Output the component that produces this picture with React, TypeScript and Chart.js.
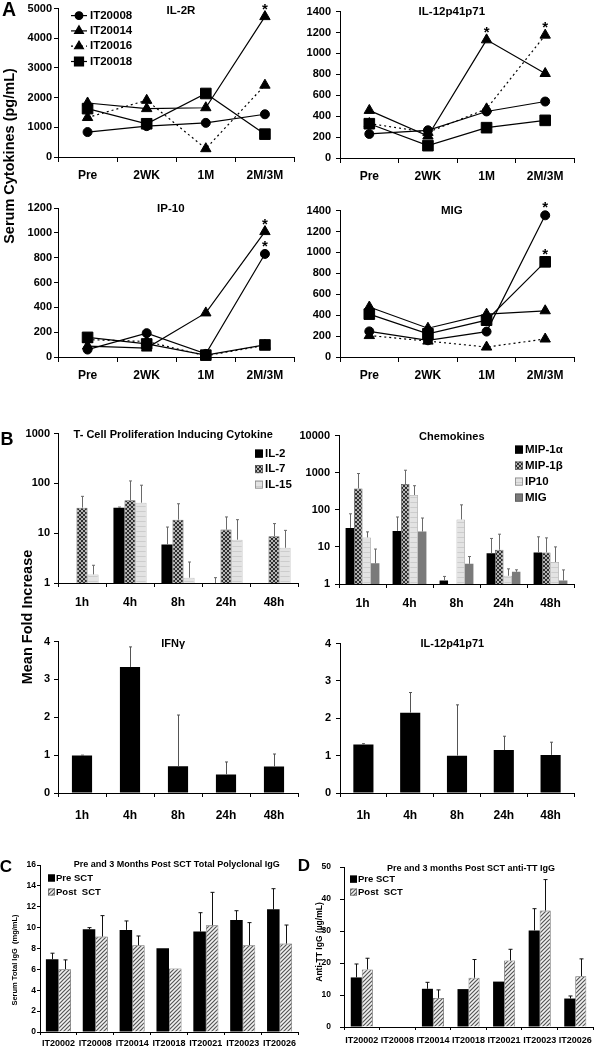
import React, { useEffect, useRef } from 'react';
import { Chart, registerables } from 'chart.js';
import { drawPoint } from 'chart.js/helpers';

Chart.register(...registerables);

const FONT = "'Liberation Sans', Arial, Helvetica, sans-serif";
Chart.defaults.font.family = FONT;

// ---------------- Panel A data ----------------
const timepoints = ['Pre', '2WK', '1M', '2M/3M'];
const patientsA = ['IT20008', 'IT20014', 'IT20016', 'IT20018'];

const il2r_IT20008 = [840, 1040, 1150, 1440];
const il2r_IT20014 = [1820, 1630, 1660, 4730];
const il2r_IT20016 = [1330, 1910, 280, 2420];
const il2r_IT20018 = [1630, 1120, 2140, 770];
const il2rStars: [number, number][] = [[1, 3]];

const il12_IT20008 = [230, 265, 445, 540];
const il12_IT20014 = [455, 210, 1130, 808];
const il12_IT20016 = [330, 245, 470, 1175];
const il12_IT20018 = [328, 118, 290, 360];
const il12Stars: [number, number][] = [[1, 2], [2, 3]];

const ip10_IT20008 = [60, 192, 25, 830];
const ip10_IT20014 = [88, 72, 355, 1010];
const ip10_IT20016 = [140, 125, 10, 94];
const ip10_IT20018 = [158, 105, 15, 97];
const ip10Stars: [number, number][] = [[1, 3], [0, 3]];

const mig_IT20008 = [245, 160, 243, 1355];
const mig_IT20014 = [478, 275, 410, 442];
const mig_IT20016 = [205, 152, 95, 172];
const mig_IT20018 = [410, 222, 352, 910];
const migStars: [number, number][] = [[0, 3], [3, 3]];

// ---------------- Panel B data ----------------
const hours = ['1h', '4h', '8h', '24h', '48h'];
const tcellLabels = ['IL-2', 'IL-7', 'IL-15'];
const il2Fold = [null, 32.6, 5.9, 1, null];
const il2Err = [null, 33.5, 13.3, 1.28, null];
const il7Fold = [32.6, 45.8, 18.7, 11.8, 8.7];
const il7Err = [55, 112, 39, 21.2, 15.6];
const il15Fold = [1.49, 41, 1.28, 7.4, 5.1];
const il15Err = [2.27, 92, 2.64, 18.7, 11.4];

const chemoLabels = ['MIP-1α', 'MIP-1β', 'IP10', 'MIG'];
const mip1aFold = [32.5, 27, 1.25, 6.7, 7.1];
const mip1aErr = [78, 64, 1.6, 16.9, 18.7];
const mip1bFold = [378, 494, null, 8.4, 7.1];
const mip1bErr = [950, 1166, null, 22, 17.5];
const ip10Fold = [18, 251, 55, 1.67, 3.9];
const ip10Err = [25.4, 446, 136, 2.56, 10];
const migFold = [3.6, 26, 3.5, 2.13, 1.25];
const migErr = [8.75, 60, 5.5, 2.41, 2.4];

const ifngFold = [0.99, 3.33, 0.71, 0.49, 0.7];
const ifngErr = [1.0, 3.86, 2.06, 0.82, 1.03];
const il12Fold = [1.3, 2.15, 1.0, 1.15, 1.02];
const il12Err = [1.32, 2.69, 2.36, 1.52, 1.36];

const log3Ticks = [1, 10, 100, 1000];
const log4Ticks = [1, 10, 100, 1000, 10000];

// ---------------- Panel C / D data ----------------
const patientsCD = ['IT20002', 'IT20008', 'IT20014', 'IT20018', 'IT20021', 'IT20023', 'IT20026'];
const groupLabels = ['Pre SCT', 'Post  SCT'];
const igPre = [6.97, 9.84, 9.78, 8.03, 9.62, 10.73, 11.75];
const igPreErr = [7.55, 10.0, 10.64, null, 11.43, 11.62, 13.73];
const igPost = [6.02, 9.14, 8.31, 6.08, 10.22, 8.31, 8.47];
const igPostErr = [6.91, 11.15, 9.2, null, 13.38, 10.48, 10.25];
const ttPre = [15.5, null, 11.95, 11.85, 14.2, 30.2, 8.9];
const ttPreErr = [19.7, null, 13.97, null, null, 37, 9.7];
const ttPost = [18.0, null, 9.1, 15.4, 20.8, 36.4, 15.9];
const ttPostErr = [21.5, null, 11.6, 21.1, 24.3, 46.1, 21.3];

// ---------------- helpers ----------------
type Area = { l: number; r: number; t: number; b: number };
type Box = { left: number; top: number; width: number; height: number };

function boxFor(a: Area, yW: number, xH: number, padTop: number, padRight: number): Box {
  return { left: a.l - yW, top: a.t - padTop, width: a.r - a.l + yW + padRight, height: a.b - a.t + padTop + xH };
}

function baseOptions(padTop: number, padRight: number) {
  return {
    responsive: false,
    animation: false,
    devicePixelRatio: 1,
    events: [],
    layout: { padding: { top: padTop, right: padRight, left: 0, bottom: 0 } },
    plugins: { legend: { display: false }, tooltip: { enabled: false }, title: { display: false } },
  };
}

function xAxis(o: { size: number; pad: number; tickLen: number; height: number }) {
  return {
    type: 'category',
    offset: true,
    grid: { display: true, drawOnChartArea: false, drawTicks: true, tickLength: o.tickLen, offset: true, color: '#000', lineWidth: 1 },
    border: { display: true, color: '#000', width: 1 },
    ticks: { color: '#000', font: { family: FONT, size: o.size, weight: 'bold' }, padding: o.pad, maxRotation: 0, minRotation: 0, autoSkip: false },
    afterFit: (sc: any) => { sc.height = o.height; },
  };
}

function yAxis(o: { type?: string; min: number; max: number; step?: number; logTicks?: number[]; size: number; tickLen: number; pad: number; width: number }) {
  const s: any = {
    type: o.type || 'linear',
    min: o.min,
    max: o.max,
    grid: { display: true, drawOnChartArea: false, drawTicks: true, tickLength: o.tickLen, color: '#000', lineWidth: 1 },
    border: { display: true, color: '#000', width: 1 },
    ticks: {
      color: '#000',
      font: { family: FONT, size: o.size, weight: 'bold' },
      padding: o.pad,
      autoSkip: false,
      callback: (v: any) => String(v),
    },
    afterFit: (sc: any) => { sc.width = o.width; },
  };
  if (o.step) s.ticks.stepSize = o.step;
  if (o.logTicks) {
    const lt = o.logTicks;
    s.afterBuildTicks = (sc: any) => { sc.ticks = lt.map((v) => ({ value: v })); };
  }
  return s;
}

function titlePlugin(text: string, frac: number, dy: number, size: number) {
  return {
    id: 'panelTitle',
    afterDraw(chart: any) {
      const { ctx, chartArea: ca } = chart;
      ctx.save();
      ctx.font = `bold ${size}px ${FONT}`;
      ctx.fillStyle = '#000';
      ctx.textAlign = 'center';
      ctx.textBaseline = 'middle';
      ctx.fillText(text, ca.left + frac * (ca.right - ca.left), ca.top + dy);
      ctx.restore();
    },
  };
}

function starsPlugin(stars: [number, number][]) {
  return {
    id: 'stars',
    afterDatasetsDraw(chart: any) {
      const ctx = chart.ctx;
      ctx.save();
      ctx.font = `bold 15px ${FONT}`;
      ctx.fillStyle = '#000';
      ctx.textAlign = 'center';
      ctx.textBaseline = 'alphabetic';
      for (const [di, pi] of stars) {
        const el = chart.getDatasetMeta(di).data[pi];
        if (el) ctx.fillText('*', el.x, el.y - 3);
      }
      ctx.restore();
    },
  };
}

function lineLegendPlugin(dx: number, dy: number, step: number) {
  return {
    id: 'lineLegend',
    afterDraw(chart: any) {
      const { ctx, chartArea: ca } = chart;
      ctx.save();
      chart.data.datasets.forEach((ds: any, i: number) => {
        const y = ca.top + dy + i * step;
        const x0 = ca.left + dx;
        ctx.strokeStyle = '#000';
        ctx.lineWidth = 1.2;
        ctx.setLineDash(ds.borderDash || []);
        ctx.beginPath();
        ctx.moveTo(x0, y);
        ctx.lineTo(x0 + 16, y);
        ctx.stroke();
        ctx.setLineDash([]);
        ctx.fillStyle = '#000';
        drawPoint(ctx, { pointStyle: ds.pointStyle, radius: ds.pointRadius * 0.85, borderWidth: 1, rotation: 0 } as any, x0 + 8, y);
        ctx.font = `bold 11.5px ${FONT}`;
        ctx.textAlign = 'left';
        ctx.textBaseline = 'middle';
        ctx.fillText(ds.label, x0 + 19, y);
      });
      ctx.restore();
    },
  };
}

function boxLegendPlugin(o: { dx: number; dy: number; step: number; size: number; box: number; textDx: number }) {
  return {
    id: 'boxLegend',
    afterDraw(chart: any) {
      const { ctx, chartArea: ca } = chart;
      ctx.save();
      chart.data.datasets.forEach((ds: any, i: number) => {
        const y = ca.top + o.dy + i * o.step;
        const x0 = ca.left + o.dx;
        ctx.fillStyle = ds.backgroundColor;
        ctx.fillRect(x0, y - o.box / 2, o.box, o.box);
        ctx.strokeStyle = ds.legendBorder || '#000';
        ctx.lineWidth = 0.8;
        ctx.strokeRect(x0 + 0.4, y - o.box / 2 + 0.4, o.box - 0.8, o.box - 0.8);
        ctx.fillStyle = '#000';
        ctx.font = `bold ${o.size}px ${FONT}`;
        ctx.textAlign = 'left';
        ctx.textBaseline = 'middle';
        ctx.fillText(ds.label, x0 + o.textDx, y);
      });
      ctx.restore();
    },
  };
}

const errorBarPlugin = {
  id: 'errorBars',
  afterDatasetsDraw(chart: any) {
    const ctx = chart.ctx;
    const ys = chart.scales.y;
    chart.data.datasets.forEach((ds: any, i: number) => {
      if (!ds.errorBars) return;
      const meta = chart.getDatasetMeta(i);
      ctx.save();
      ctx.strokeStyle = ds.errorColor || '#666';
      ctx.lineWidth = 1;
      meta.data.forEach((el: any, j: number) => {
        const e = ds.errorBars[j];
        const v = ds.data[j];
        if (e == null || v == null || !el) return;
        const x = Math.round(el.x) + 0.5;
        const yTop = ys.getPixelForValue(e);
        const yBase = el.y;
        const cap = ds.errorCap ?? 1.5;
        ctx.beginPath();
        ctx.moveTo(x, yBase);
        ctx.lineTo(x, yTop);
        ctx.moveTo(x - cap, yTop);
        ctx.lineTo(x + cap, yTop);
        ctx.stroke();
      });
      ctx.restore();
    });
  },
};

function hatchPattern(bg: string, fg: string, size: number, both: boolean, lw: number) {
  const c = document.createElement('canvas');
  c.width = size;
  c.height = size;
  const g = c.getContext('2d')!;
  g.fillStyle = bg;
  g.fillRect(0, 0, size, size);
  g.strokeStyle = fg;
  g.lineWidth = lw;
  g.beginPath();
  g.moveTo(-1, size + 1);
  g.lineTo(size + 1, -1);
  g.moveTo(-1, 1);
  g.lineTo(1, -1);
  g.moveTo(size - 1, size + 1);
  g.lineTo(size + 1, size - 1);
  if (both) {
    g.moveTo(-1, -1);
    g.lineTo(size + 1, size + 1);
    g.moveTo(size - 1, -1);
    g.lineTo(size + 1, 1);
    g.moveTo(-1, size - 1);
    g.lineTo(1, size + 1);
  }
  g.stroke();
  return g.createPattern(c, 'repeat');
}

function stripePattern() {
  const c = document.createElement('canvas');
  c.width = 4;
  c.height = 5;
  const g = c.getContext('2d')!;
  g.fillStyle = '#e3e3e3';
  g.fillRect(0, 0, 4, 5);
  g.fillStyle = '#cdcdcd';
  g.fillRect(0, 3, 4, 1);
  return g.createPattern(c, 'repeat');
}

// ---------------- chart builders ----------------
const markerStyles = [
  { pointStyle: 'circle', radius: 4.5, dash: [] as number[] },
  { pointStyle: 'triangle', radius: 6, dash: [] as number[] },
  { pointStyle: 'triangle', radius: 6, dash: [2, 3] },
  { pointStyle: 'rect', radius: 7.5, dash: [] as number[] },
];

type Panel = { key: string; box: Box; make: () => any };

function linePanel(key: string, p: {
  area: Area; values: number[][]; max: number; step: number; yPad: number;
  title: string; titleFrac: number; titleDy: number; stars: [number, number][]; legend: boolean; padTop: number;
}): Panel {
  const yW = 50, xH = 30, padRight = 6;
  const box = boxFor(p.area, yW, xH, p.padTop, padRight);
  const make = () => ({
    type: 'line',
    data: {
      labels: timepoints,
      datasets: p.values.map((v, i) => ({
        label: patientsA[i],
        data: v,
        borderColor: '#000',
        backgroundColor: '#000',
        borderWidth: 1.2,
        borderDash: markerStyles[i].dash,
        pointStyle: markerStyles[i].pointStyle,
        pointRadius: markerStyles[i].radius,
        pointBackgroundColor: '#000',
        pointBorderColor: '#000',
        pointBorderWidth: 1,
        tension: 0,
        fill: false,
        clip: false,
      })),
    },
    options: {
      ...baseOptions(p.padTop, padRight),
      scales: {
        x: xAxis({ size: 12, pad: 6, tickLen: 5, height: xH }),
        y: yAxis({ min: 0, max: p.max, step: p.step, size: 11, tickLen: 4, pad: p.yPad, width: yW }),
      },
    },
    plugins: [
      titlePlugin(p.title, p.titleFrac, p.titleDy, 11.5),
      starsPlugin(p.stars),
      ...(p.legend ? [lineLegendPlugin(13, 7, 15.3)] : []),
    ],
  });
  return { key, box, make };
}

function barPanel(key: string, p: {
  area: Area; labels: string[]; datasets: () => any[]; y: any; yW: number; xH: number; padTop: number; padRight: number;
  x: any; title: string; titleFrac: number; titleDy: number; titleSize: number;
  legend?: { dx: number; dy: number; step: number; size: number; box: number; textDx: number };
}): Panel {
  const box = boxFor(p.area, p.yW, p.xH, p.padTop, p.padRight);
  const make = () => ({
    type: 'bar',
    data: { labels: p.labels, datasets: p.datasets() },
    options: {
      ...baseOptions(p.padTop, p.padRight),
      scales: { x: p.x, y: p.y },
    },
    plugins: [
      errorBarPlugin,
      titlePlugin(p.title, p.titleFrac, p.titleDy, p.titleSize),
      ...(p.legend ? [boxLegendPlugin(p.legend)] : []),
    ],
  });
  return { key, box, make };
}

function bar(label: string, data: any[], err: any[], fill: any, cat: number, extra: any = {}) {
  return {
    label,
    data,
    errorBars: err,
    backgroundColor: fill,
    borderWidth: 0,
    barPercentage: 1,
    categoryPercentage: cat,
    errorColor: '#6a6a6a',
    ...extra,
  };
}

const panels: Panel[] = [
  linePanel('il2r', {
    area: { l: 58, r: 297, t: 8, b: 157 },
    values: [il2r_IT20008, il2r_IT20014, il2r_IT20016, il2r_IT20018],
    max: 5000, step: 1000, yPad: 2, title: 'IL-2R', titleFrac: 0.52, titleDy: 2, stars: il2rStars, legend: true, padTop: 8,
  }),
  linePanel('il12', {
    area: { l: 340, r: 577, t: 10, b: 158 },
    values: [il12_IT20008, il12_IT20014, il12_IT20016, il12_IT20018],
    max: 1400, step: 200, yPad: 5, title: 'IL-12p41p71', titleFrac: 0.477, titleDy: 0, stars: il12Stars, legend: false, padTop: 10,
  }),
  linePanel('ip10', {
    area: { l: 58, r: 297, t: 208, b: 357 },
    values: [ip10_IT20008, ip10_IT20014, ip10_IT20016, ip10_IT20018],
    max: 1200, step: 200, yPad: 2, title: 'IP-10', titleFrac: 0.477, titleDy: 1, stars: ip10Stars, legend: false, padTop: 10,
  }),
  linePanel('mig', {
    area: { l: 340, r: 577, t: 209, b: 357 },
    values: [mig_IT20008, mig_IT20014, mig_IT20016, mig_IT20018],
    max: 1400, step: 200, yPad: 5, title: 'MIG', titleFrac: 0.477, titleDy: 0, stars: migStars, legend: false, padTop: 10,
  }),
  barPanel('tcell', {
    area: { l: 58, r: 298, t: 433, b: 583 }, labels: hours, yW: 50, xH: 30, padTop: 10, padRight: 4,
    x: xAxis({ size: 12, pad: 8, tickLen: 4, height: 30 }),
    y: yAxis({ type: 'logarithmic', min: 1, max: 1000, logTicks: log3Ticks, size: 11, tickLen: 4, pad: 4, width: 50 }),
    title: 'T- Cell Proliferation Inducing Cytokine', titleFrac: 0.48, titleDy: 1, titleSize: 11,
    legend: { dx: 197, dy: 20, step: 15.5, size: 11.5, box: 8, textDx: 10 },
    datasets: () => [
      bar(tcellLabels[0], il2Fold, il2Err, '#000', 0.69),
      bar(tcellLabels[1], il7Fold, il7Err, hatchPattern('#b4b4b4', '#2e2e2e', 4, true, 1), 0.69, { borderColor: '#555', borderWidth: 0.8, legendBorder: '#555' }),
      bar(tcellLabels[2], il15Fold, il15Err, stripePattern(), 0.69, { borderColor: '#aaa', borderWidth: 0.8, legendBorder: '#888' }),
    ],
  }),
  barPanel('chemo', {
    area: { l: 339, r: 574, t: 434, b: 584 }, labels: hours, yW: 49, xH: 30, padTop: 10, padRight: 4,
    x: xAxis({ size: 12, pad: 8, tickLen: 4, height: 30 }),
    y: yAxis({ type: 'logarithmic', min: 1, max: 10000, logTicks: log4Ticks, size: 11, tickLen: 4, pad: 5, width: 49 }),
    title: 'Chemokines', titleFrac: 0.48, titleDy: 1, titleSize: 11,
    legend: { dx: 176, dy: 14, step: 16, size: 11.5, box: 8, textDx: 10 },
    datasets: () => [
      bar(chemoLabels[0], mip1aFold, mip1aErr, '#000', 0.72),
      bar(chemoLabels[1], mip1bFold, mip1bErr, hatchPattern('#b4b4b4', '#2e2e2e', 4, true, 1), 0.72, { borderColor: '#555', borderWidth: 0.8, legendBorder: '#555' }),
      bar(chemoLabels[2], ip10Fold, ip10Err, stripePattern(), 0.72, { borderColor: '#aaa', borderWidth: 0.8, legendBorder: '#888' }),
      bar(chemoLabels[3], migFold, migErr, '#7a7a7a', 0.72, { legendBorder: '#555' }),
    ],
  }),
  barPanel('ifng', {
    area: { l: 58, r: 298, t: 641, b: 793 }, labels: hours, yW: 50, xH: 30, padTop: 10, padRight: 4,
    x: xAxis({ size: 12, pad: 11, tickLen: 4, height: 30 }),
    y: yAxis({ min: 0, max: 4, step: 1, size: 11, tickLen: 4, pad: 4, width: 50 }),
    title: 'IFNγ', titleFrac: 0.48, titleDy: 2, titleSize: 11,
    datasets: () => [bar('IFNγ', ifngFold, ifngErr, '#000', 0.42, { errorColor: '#555' })],
  }),
  barPanel('il12b', {
    area: { l: 340, r: 574, t: 642, b: 793 }, labels: hours, yW: 50, xH: 30, padTop: 10, padRight: 4,
    x: xAxis({ size: 12, pad: 11, tickLen: 4, height: 30 }),
    y: yAxis({ min: 0, max: 4, step: 1, size: 11, tickLen: 4, pad: 5, width: 50 }),
    title: 'IL-12p41p71', titleFrac: 0.48, titleDy: 0, titleSize: 11,
    datasets: () => [bar('IL-12p41p71', il12Fold, il12Err, '#000', 0.43, { errorColor: '#555' })],
  }),
  barPanel('igg', {
    area: { l: 40, r: 298, t: 865, b: 1032 }, labels: patientsCD, yW: 36, xH: 18, padTop: 10, padRight: 2,
    x: xAxis({ size: 9, pad: 3, tickLen: 3, height: 18 }),
    y: yAxis({ min: 0, max: 16, step: 2, size: 8.5, tickLen: 3, pad: 1, width: 36 }),
    title: 'Pre and 3 Months Post SCT Total Polyclonal IgG', titleFrac: 0.53, titleDy: 0, titleSize: 9,
    legend: { dx: 8, dy: 13, step: 14, size: 9.5, box: 7, textDx: 8 },
    datasets: () => [
      bar(groupLabels[0], igPre, igPreErr, '#000', 0.68, { errorColor: '#111', errorCap: 2 }),
      bar(groupLabels[1], igPost, igPostErr, hatchPattern('#f2f2f2', '#555', 4, false, 1.2), 0.68, { borderColor: '#666', borderWidth: 0.8, errorColor: '#111', errorCap: 2, legendBorder: '#666' }),
    ],
  }),
  barPanel('tt', {
    area: { l: 344, r: 594, t: 863, b: 1027 }, labels: patientsCD, yW: 44, xH: 22, padTop: 10, padRight: 3,
    x: xAxis({ size: 9, pad: 5, tickLen: 3, height: 22 }),
    y: yAxis({ min: 0, max: 50, step: 10, size: 8.5, tickLen: 4, pad: 9, width: 44 }),
    title: 'Pre and 3 months Post SCT anti-TT IgG', titleFrac: 0.51, titleDy: 1, titleSize: 9,
    legend: { dx: 6, dy: 12, step: 13, size: 9.5, box: 7, textDx: 8 },
    datasets: () => [
      bar(groupLabels[0], ttPre, ttPreErr, '#000', 0.62, { errorColor: '#111', errorCap: 2 }),
      bar(groupLabels[1], ttPost, ttPostErr, hatchPattern('#f2f2f2', '#555', 4, false, 1.2), 0.62, { borderColor: '#666', borderWidth: 0.8, errorColor: '#111', errorCap: 2, legendBorder: '#666' }),
    ],
  }),
];

function ChartCanvas({ panel }: { panel: Panel }) {
  const ref = useRef<HTMLCanvasElement>(null);
  useEffect(() => {
    const chart = new Chart(ref.current as HTMLCanvasElement, panel.make());
    return () => chart.destroy();
  }, [panel]);
  const b = panel.box;
  return (
    <canvas
      ref={ref}
      width={b.width}
      height={b.height}
      style={{ position: 'absolute', left: b.left, top: b.top, width: b.width, height: b.height }}
    />
  );
}

function Label({ text, x, y, size, rotate = false }: { text: string; x: number; y: number; size: number; rotate?: boolean }) {
  return (
    <div
      style={{
        position: 'absolute',
        left: x,
        top: y,
        transform: `translate(-50%, -50%)${rotate ? ' rotate(-90deg)' : ''}`,
        font: `bold ${size}px ${FONT}`,
        lineHeight: 1,
        whiteSpace: 'pre',
        color: '#000',
      }}
    >
      {text}
    </div>
  );
}

export default function App() {
  return (
    <div style={{ position: 'absolute', left: 0, top: 0, width: 597, height: 1050, background: '#fff', overflow: 'hidden' }}>
      {panels.map((p) => (
        <ChartCanvas key={p.key} panel={p} />
      ))}
      <Label text="A" x={9} y={10} size={19.5} />
      <Label text="B" x={7} y={439} size={18} />
      <Label text="C" x={6} y={866} size={17} />
      <Label text="D" x={304} y={865} size={17} />
      <Label text="Serum Cytokines (pg/mL)" x={9} y={156} size={14.5} rotate />
      <Label text="Mean Fold Increase" x={27} y={617} size={14.5} rotate />
      <Label text="Serum Total IgG  (mg/mL)" x={15} y={960} size={7.5} rotate />
      <Label text="Anti-TT IgG (µg/mL)" x={319} y={942} size={8.5} rotate />
    </div>
  );
}
